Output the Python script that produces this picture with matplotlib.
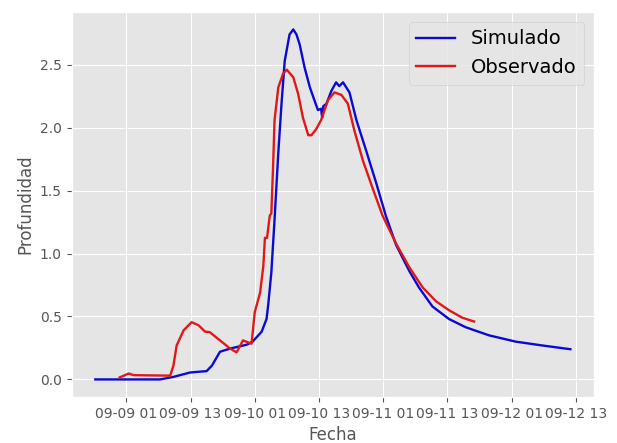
import numpy as np
import pandas as pd
import matplotlib
matplotlib.use('Agg')
import matplotlib.pyplot as plt
import matplotlib.dates as mdates

# horas desde 09-09 01:00 y profundidades
base = pd.Timestamp('2021-09-09 01:00')

horas_sim = [-5.8, 6.3, 8.8, 11.9, 15.0, 16.0, 17.5, 19.4, 22.5, 23.6, 25.3, 26.2,
             26.5, 27.1, 27.7, 28.4, 29.0, 29.6, 30.5, 31.2, 31.8, 32.4, 33.3,
             34.3, 35.8, 36.4, 36.6, 36.8, 37.4, 38.3, 39.2, 39.8, 40.5, 41.7,
             43.0, 44.8, 46.7, 48.5, 50.4, 52.9, 54.7, 57.2, 60.3, 63.4, 67.8,
             72.8, 77.7, 83.0]
prof_sim = [0.0, 0.0, 0.02, 0.055, 0.066, 0.11, 0.22, 0.245, 0.276, 0.30, 0.38, 0.48,
            0.586, 0.85, 1.27, 1.80, 2.19, 2.53, 2.74, 2.78, 2.74, 2.66, 2.48,
            2.32, 2.14, 2.15, 2.08, 2.17, 2.19, 2.29, 2.36, 2.33, 2.36, 2.28,
            2.06, 1.82, 1.56, 1.30, 1.07, 0.86, 0.73, 0.58, 0.48, 0.415, 0.35,
            0.30, 0.27, 0.24]

horas_obs = [-1.25, 0.43, 1.36, 8.2, 8.8, 9.4, 10.7, 12.2, 13.5, 14.7, 15.6, 17.5,
             19.4, 20.6, 21.8, 23.4, 24.0, 25.0, 25.6, 25.9, 26.3, 26.8, 27.1,
             27.4, 27.7, 28.4, 29.3, 30.0, 31.2, 32.1, 33.0, 34.0, 34.6, 35.5,
             36.4, 37.7, 38.9, 40.2, 41.4, 42.6, 44.2, 46.1, 47.9, 50.4, 52.9,
             55.4, 57.9, 60.3, 62.8, 65.0]
prof_obs = [0.016, 0.047, 0.034, 0.03, 0.11, 0.27, 0.39, 0.455, 0.43, 0.38, 0.375, 0.31,
            0.245, 0.215, 0.31, 0.284, 0.534, 0.69, 0.90, 1.125, 1.125, 1.30, 1.32,
            1.66, 2.06, 2.32, 2.43, 2.46, 2.40, 2.27, 2.08, 1.94, 1.94, 1.99,
            2.06, 2.22, 2.28, 2.26, 2.19, 1.98, 1.74, 1.51, 1.30, 1.08, 0.89,
            0.73, 0.62, 0.55, 0.49, 0.46]

t_sim = base + pd.to_timedelta(horas_sim, unit='h')
t_obs = base + pd.to_timedelta(horas_obs, unit='h')

plt.style.use('ggplot')
fig = plt.figure(figsize=(6.17, 4.43), dpi=100)
ax = fig.add_subplot()
fig.subplots_adjust(left=0.116, right=0.963, top=0.973, bottom=0.104)

ax.plot(t_sim, prof_sim, color='#0a0ad0', lw=1.7, label='Simulado')
ax.plot(t_obs, prof_obs, color='#e01818', lw=1.7, label='Observado')

ax.xaxis.set_major_locator(mdates.HourLocator(byhour=[1, 13]))
ax.xaxis.set_major_formatter(mdates.DateFormatter('%m-%d %H'))
ax.set_xlabel('Fecha')
ax.set_ylabel('Profundidad')
ax.legend(loc='upper right', fontsize=14)

fig.savefig('out.png', dpi=100)
